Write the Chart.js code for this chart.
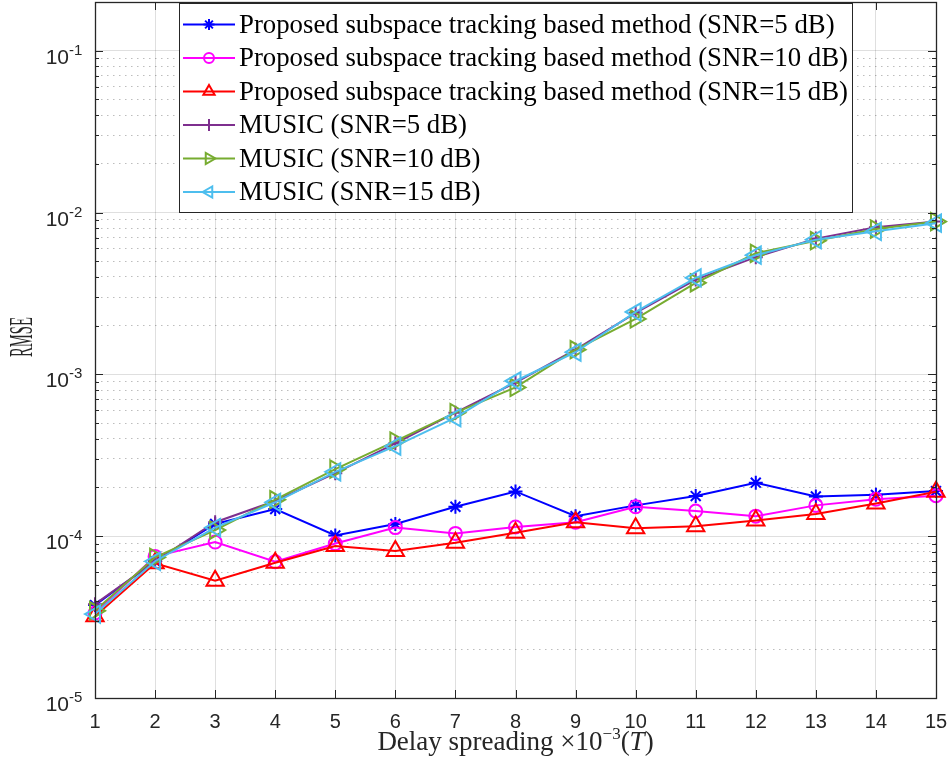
<!DOCTYPE html>
<html lang="en">
<head>
<meta charset="UTF-8">
<title>RMSE vs delay spreading</title>
<script src="https://cdn.jsdelivr.net/npm/chart.js@4.4.0/dist/chart.umd.min.js"></script>
<style>
  html, body { margin: 0; padding: 0; background: #fff; }
  canvas { display: block; }
</style>
</head>
<body>
<canvas id="chart" width="948" height="769"></canvas>
<script>
// delay spreading (x10^-3 T)
const delays = [1, 2, 3, 4, 5, 6, 7, 8, 9, 10, 11, 12, 13, 14, 15];

// RMSE values
const proposed5  = [3.75e-5, 7.0e-5, 1.19e-4, 1.47e-4, 1.01e-4, 1.19e-4, 1.52e-4, 1.89e-4, 1.33e-4, 1.55e-4, 1.77e-4, 2.14e-4, 1.76e-4, 1.80e-4, 1.90e-4];
const proposed10 = [3.35e-5, 7.5e-5, 9.2e-5, 6.95e-5, 9.0e-5, 1.13e-4, 1.04e-4, 1.14e-4, 1.22e-4, 1.52e-4, 1.43e-4, 1.33e-4, 1.55e-4, 1.69e-4, 1.78e-4];
const proposed15 = [3.2e-5, 6.8e-5, 5.3e-5, 6.85e-5, 8.7e-5, 8.1e-5, 9.1e-5, 1.05e-4, 1.22e-4, 1.12e-4, 1.15e-4, 1.25e-4, 1.37e-4, 1.59e-4, 1.88e-4];
const music5     = [3.8e-5, 7.0e-5, 1.22e-4, 1.65e-4, 2.45e-4, 3.75e-4, 5.8e-4, 8.9e-4, 1.42e-3, 2.4e-3, 3.85e-3, 5.3e-3, 6.9e-3, 8.1e-3, 8.8e-3];
const music10    = [3.46e-5, 7.4e-5, 1.09e-4, 1.68e-4, 2.6e-4, 3.87e-4, 5.8e-4, 8.3e-4, 1.42e-3, 2.2e-3, 3.68e-3, 5.6e-3, 6.7e-3, 7.9e-3, 8.8e-3];
const music15    = [3.3e-5, 7.0e-5, 1.13e-4, 1.62e-4, 2.5e-4, 3.6e-4, 5.4e-4, 9.1e-4, 1.37e-3, 2.43e-3, 3.95e-3, 5.45e-3, 6.8e-3, 7.65e-3, 8.6e-3];

const seriesLabels = [
  'Proposed subspace tracking based method (SNR=5 dB)',
  'Proposed subspace tracking based method (SNR=10 dB)',
  'Proposed subspace tracking based method (SNR=15 dB)',
  'MUSIC (SNR=5 dB)',
  'MUSIC (SNR=10 dB)',
  'MUSIC (SNR=15 dB)'
];

// y axis decades and their exponent labels
const yDecades = [1e-5, 1e-4, 1e-3, 1e-2, 1e-1];
const yExponents = ['-5', '-4', '-3', '-2', '-1'];

const xTitle = ['Delay spreading \u00d710', '\u22123', '(', 'T', ')'];
const yTitle = 'RMSE';

const axisColor = '#262626';
const serif = '"Liberation Serif", "Times New Roman", serif';
const sans = '"Liberation Sans", Arial, sans-serif';

const styles = [
  { color: '#0000ff', point: 'star', radius: 7, rot: 0, lr: 5.5 },
  { color: '#ff00ff', point: 'circle', radius: 6.5, rot: 0, lr: 5 },
  { color: '#ff0000', point: 'triangle', radius: 10, rot: 0, lr: 6.5 },
  { color: '#7e2f8e', point: 'cross', radius: 7, rot: 0, lr: 6 },
  { color: '#77ac30', point: 'triangle', radius: 10, rot: 90, lr: 6.5 },
  { color: '#4dbeee', point: 'triangle', radius: 10, rot: -90, lr: 6.5 }
];
const seriesData = [proposed5, proposed10, proposed15, music5, music10, music15];

const datasets = seriesData.map((vals, i) => ({
  label: seriesLabels[i],
  data: vals.map((v, j) => ({ x: delays[j], y: v })),
  borderColor: styles[i].color,
  backgroundColor: 'rgba(0,0,0,0)',
  borderWidth: 2,
  pointStyle: styles[i].point,
  pointRadius: styles[i].radius,
  pointRotation: styles[i].rot,
  pointBorderWidth: 2,
  pointBorderColor: styles[i].color,
  pointBackgroundColor: 'rgba(0,0,0,0)',
  tension: 0,
  clip: false,
  order: 6 - i   // later series drawn on top, like MATLAB
}));

function isDecade(v) {
  const e = Math.log10(v);
  return Math.abs(e - Math.round(e)) < 1e-9;
}

function noPad(s) {
  s.paddingLeft = 0; s.paddingRight = 0; s.paddingTop = 0; s.paddingBottom = 0;
}

// axes box, inward ticks, exponent labels, titles and legend
const decor = {
  id: 'decor',
  afterDraw(chart) {
    const ctx = chart.ctx;
    const a = chart.chartArea;
    const xs = chart.scales.x, ys = chart.scales.y;
    ctx.save();

    // inward tick marks
    ctx.strokeStyle = axisColor;
    ctx.lineWidth = 1;
    ctx.beginPath();
    ys.ticks.forEach(t => {
      const y = Math.round(ys.getPixelForValue(t.value)) + 0.5;
      const len = isDecade(t.value) ? 8 : 4;
      ctx.moveTo(a.left, y); ctx.lineTo(a.left + len, y);
      ctx.moveTo(a.right, y); ctx.lineTo(a.right - len, y);
    });
    xs.ticks.forEach(t => {
      const x = Math.round(xs.getPixelForValue(t.value)) + 0.5;
      ctx.moveTo(x, a.bottom); ctx.lineTo(x, a.bottom - 8);
      ctx.moveTo(x, a.top); ctx.lineTo(x, a.top + 8);
    });
    ctx.stroke();

    // box
    ctx.lineWidth = 1.3;
    ctx.strokeRect(Math.round(a.left) + 0.5, Math.round(a.top) + 0.5,
                   Math.round(a.right - a.left), Math.round(a.bottom - a.top));

    // y tick labels 10^n
    ctx.fillStyle = axisColor;
    ctx.textBaseline = 'alphabetic';
    yDecades.forEach((v, i) => {
      const y = ys.getPixelForValue(v);
      ctx.font = '21px ' + sans;
      ctx.textAlign = 'right';
      ctx.fillText('10', 69, y + 13);
      ctx.font = '15px ' + sans;
      ctx.textAlign = 'left';
      ctx.fillText(yExponents[i], 69, y + 4);
    });

    // x title with superscript and italic T
    const base = 750;
    const parts = [
      { t: xTitle[0], f: '27px ' + serif, dy: 0 },
      { t: xTitle[1], f: '17px ' + serif, dy: -11 },
      { t: xTitle[2], f: '27px ' + serif, dy: 0 },
      { t: xTitle[3], f: 'italic 27px ' + serif, dy: 0 },
      { t: xTitle[4], f: '27px ' + serif, dy: 0 }
    ];
    let total = 0;
    parts.forEach(p => { ctx.font = p.f; p.w = ctx.measureText(p.t).width; total += p.w; });
    let cx = (a.left + a.right) / 2 - total / 2;
    ctx.textAlign = 'left';
    parts.forEach(p => { ctx.font = p.f; ctx.fillText(p.t, cx, base + p.dy); cx += p.w; });

    // y title (narrow, as in the figure)
    ctx.font = '34px ' + serif;
    const tw = ctx.measureText(yTitle).width;
    ctx.save();
    ctx.translate(22, 337);
    ctx.rotate(-Math.PI / 2);
    ctx.scale(40 / tw, 1);
    ctx.textAlign = 'center';
    ctx.textBaseline = 'middle';
    ctx.fillText(yTitle, 0, 1);
    ctx.restore();

    // legend
    const L = 179.5, T = 3.5, R = 852.5, B = 212.5;
    ctx.fillStyle = '#fff';
    ctx.fillRect(L, T, R - L, B - T);
    ctx.strokeStyle = axisColor;
    ctx.lineWidth = 1;
    ctx.strokeRect(L, T, R - L, B - T);
    seriesLabels.forEach((lab, i) => {
      const y = 24.5 + i * 33.5;
      const st = styles[i];
      ctx.strokeStyle = st.color;
      ctx.lineWidth = 2;
      ctx.beginPath();
      ctx.moveTo(183, y); ctx.lineTo(235, y);
      ctx.stroke();
      ctx.fillStyle = 'rgba(0,0,0,0)';
      Chart.helpers.drawPoint(ctx, { pointStyle: st.point, radius: st.lr, rotation: st.rot, borderWidth: 2 }, 209, y);
      ctx.fillStyle = '#000';
      ctx.font = '26.8px ' + serif;
      ctx.textAlign = 'left';
      ctx.textBaseline = 'middle';
      ctx.fillText(lab, 239, y + 1);
    });

    ctx.restore();
  }
};

new Chart(document.getElementById('chart'), {
  type: 'line',
  data: { datasets },
  options: {
    responsive: false,
    devicePixelRatio: 1,
    animation: false,
    layout: { autoPadding: false, padding: { left: 0, top: 2, right: 12, bottom: 0 } },
    plugins: { legend: { display: false }, tooltip: { enabled: false } },
    scales: {
      x: {
        type: 'linear',
        min: 1,
        max: 15,
        ticks: {
          stepSize: 1,
          color: axisColor,
          font: { family: sans, size: 20 },
          padding: 12,
          maxRotation: 0,
          autoSkip: false
        },
        grid: { color: 'rgba(38,38,38,0.15)', lineWidth: 1, drawTicks: false },
        border: { display: false },
        afterFit(s) { s.height = 71; noPad(s); }
      },
      y: {
        type: 'logarithmic',
        min: 1e-5,
        max: 0.2,
        afterBuildTicks(s) {
          const t = [];
          yDecades.forEach(d => {
            for (let m = 1; m <= 9; m++) {
              const v = d * m;
              if (v >= s.min * 0.999 && v <= s.max * 1.001) t.push({ value: m === 1 ? d : v });
            }
          });
          s.ticks = t;
        },
        ticks: { display: false },
        grid: {
          drawTicks: false,
          lineWidth: 1,
          color: c => (c.tick && !isDecade(c.tick.value)) ? 'rgba(38,38,38,0.3)' : 'rgba(38,38,38,0.15)'
        },
        border: {
          display: false,
          dash: c => (c.tick && !isDecade(c.tick.value)) ? [1.5, 4.5] : []
        },
        afterFit(s) { s.width = 95; noPad(s); }
      }
    }
  },
  plugins: [decor]
});
</script>
</body>
</html>
